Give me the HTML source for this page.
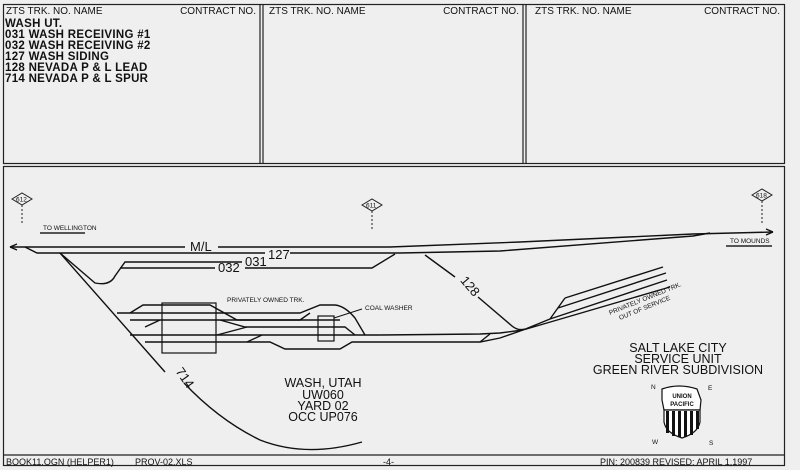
<!DOCTYPE html>
<html><head><meta charset="utf-8"><style>
html,body{margin:0;padding:0;background:#efefef;}
svg{display:block;}
text{font-family:"Liberation Sans",sans-serif;fill:#111;}
</style></head><body>
<svg width="800" height="470" viewBox="0 0 800 470" xmlns="http://www.w3.org/2000/svg">
<rect width="800" height="470" fill="#efefef"/>
<g fill="none" stroke="#222" stroke-width="1.2">
<rect x="3.5" y="4.5" width="781" height="159"/>
<line x1="260" y1="4" x2="260" y2="163"/><line x1="263" y1="4" x2="263" y2="163"/>
<line x1="523" y1="4" x2="523" y2="163"/><line x1="526" y1="4" x2="526" y2="163"/>
<rect x="3.5" y="166.5" width="781" height="299"/>
<line x1="3" y1="455" x2="785" y2="455"/>
</g>
<g font-size="10">
<text x="6" y="14">ZTS TRK. NO. NAME</text><text x="256" y="14" text-anchor="end">CONTRACT NO.</text>
<text x="269" y="14">ZTS TRK. NO. NAME</text><text x="519" y="14" text-anchor="end">CONTRACT NO.</text>
<text x="535" y="14">ZTS TRK. NO. NAME</text><text x="780" y="14" text-anchor="end">CONTRACT NO.</text>
</g>
<g font-size="11.5" font-weight="bold" letter-spacing="0.3">
<text x="5" y="27">WASH UT.</text>
<text x="5" y="38">031 WASH RECEIVING #1</text>
<text x="5" y="49">032 WASH RECEIVING #2</text>
<text x="5" y="60">127 WASH SIDING</text>
<text x="5" y="71">128 NEVADA P &amp; L LEAD</text>
<text x="5" y="82">714 NEVADA P &amp; L SPUR</text>
</g>
<g fill="none" stroke="#222" stroke-width="1">
<polygon points="12,199 22,193 32,199 22,205"/>
<polygon points="362,205 372,199 382,205 372,211"/>
<polygon points="752,195 762,189 772,195 762,201"/>
<line x1="22" y1="205" x2="22" y2="224" stroke-dasharray="2,2"/>
<line x1="372" y1="211" x2="372" y2="230" stroke-dasharray="2,2"/>
<line x1="762" y1="201" x2="762" y2="225" stroke-dasharray="2,2"/>
</g>
<g font-size="6.5"><text x="16" y="201.5">612</text><text x="366" y="207.5">611</text><text x="756" y="197.5">618</text>
<text x="43" y="230">TO WELLINGTON</text><text x="730" y="243">TO MOUNDS</text>
<text x="227" y="302">PRIVATELY OWNED TRK.</text><text x="365" y="310">COAL WASHER</text>
<text x="610" y="315" transform="rotate(-22 610 315)">PRIVATELY OWNED TRK.</text>
<text x="620" y="320" transform="rotate(-22 620 320)">OUT OF SERVICE</text></g>
<g stroke="#222" stroke-width="1.5" fill="none">
<line x1="40" y1="233" x2="85" y2="233"/><line x1="726" y1="246" x2="772" y2="246"/>
</g>
<g stroke="#111" stroke-width="1.4" fill="none">
<path d="M10,247 L185,247 M218,247 L390,247 L520,242 L693,234 L773,232"/>
<path d="M10,247 l7,-3 m-7,3 l7,3 M773,232 l-7,-3 m7,3 l-7,3"/>
<path d="M25,247 L37,253 L265,253 M290,253 L400,253 L500,251 L693,236 L710,233"/>
<path d="M60,253 L95,283 Q110,286 115,276 L125,262 L242,262"/>
<path d="M120,268 L215,268 M245,268 L372,268 L395,254"/>
<path d="M60,253 L165,372 M184,383 Q219,420 260,440 Q306,458 362,442"/>
<path d="M425,255 L455,277 M478,297 L512,326 Q518,331 525,329"/>
<path d="M117,313 L300,313 L320,305 L335,305 Q345,306 355,318 L365,335"/>
<path d="M130,313 L143,305 L210,305 L237,320 L340,320"/>
<path d="M130,320 L300,320 L310,313"/>
<path d="M145,327 L160,320 M220,320 L245,327 L345,327 L355,335"/>
<path d="M130,335 L380,335 L480,334 L500,333 L523,330"/>
<path d="M145,342 L270,342 L285,349 L340,349 L352,342 L380,342 L480,342 L500,338 L523,330"/>
<path d="M217,335 L247,327 M247,342 L262,335 M480,342 L490,334"/>
<path d="M523,330 L670,287 M550,319 L667,280 M558,308 L666,273 M565,298 L663,267 M550,319 L565,298 M523,330 L550,319"/>
<rect x="162" y="303" width="54" height="50" stroke-width="1.2"/>
<rect x="318" y="316" width="16" height="25" stroke-width="1.2"/>
<line x1="334" y1="318" x2="362" y2="309" stroke-width="1"/>
</g>
<rect x="187" y="240" width="30" height="12" fill="#efefef"/>
<text x="190" y="251" font-size="13">M/L</text>
<text x="268" y="259" font-size="13">127</text>
<text x="245" y="266" font-size="13">031</text>
<text x="218" y="272" font-size="13">032</text>
<text x="455" y="285" font-size="13" transform="rotate(50 462 288)">128</text>
<text x="168" y="375" font-size="13" transform="rotate(55 175 380)">714</text>
<g font-size="12.5" text-anchor="middle">
<text x="678" y="352">SALT LAKE CITY</text><text x="678" y="363">SERVICE UNIT</text><text x="678" y="374">GREEN RIVER SUBDIVISION</text>
<text x="323" y="387">WASH, UTAH</text><text x="323" y="399">UW060</text><text x="323" y="410">YARD 02</text><text x="323" y="421">OCC UP076</text>
</g>
<g font-size="6.5"><text x="651" y="389">N</text><text x="708" y="390">E</text><text x="652" y="444">W</text><text x="709" y="445">S</text></g>
<path d="M662,389 Q679,383 697,389 L701,400 L700,410 L664,410 L662,400 Z" fill="#fff" stroke="#111" stroke-width="1.2"/>
<path d="M664,410 L700,410 L700,422 Q698,433 682,438 Q666,433 664,422 Z" fill="#fff" stroke="#111" stroke-width="1.2"/>
<g fill="#111"><rect x="666" y="411" width="3" height="22"/><rect x="672" y="411" width="3" height="25"/><rect x="678" y="411" width="3" height="26"/><rect x="684" y="411" width="3" height="26"/><rect x="690" y="411" width="3" height="24"/><rect x="696" y="411" width="3" height="18"/></g>
<text x="682" y="398" font-size="6" font-weight="bold" text-anchor="middle">UNION</text>
<text x="682" y="406" font-size="6" font-weight="bold" text-anchor="middle">PACIFIC</text>
<g font-size="9"><text x="6" y="465">BOOK11.OGN (HELPER1)</text><text x="135" y="465">PROV-02.XLS</text><text x="383" y="465">-4-</text><text x="600" y="465">PIN: 200839 REVISED: APRIL 1,1997</text></g>
</svg>
</body></html>
